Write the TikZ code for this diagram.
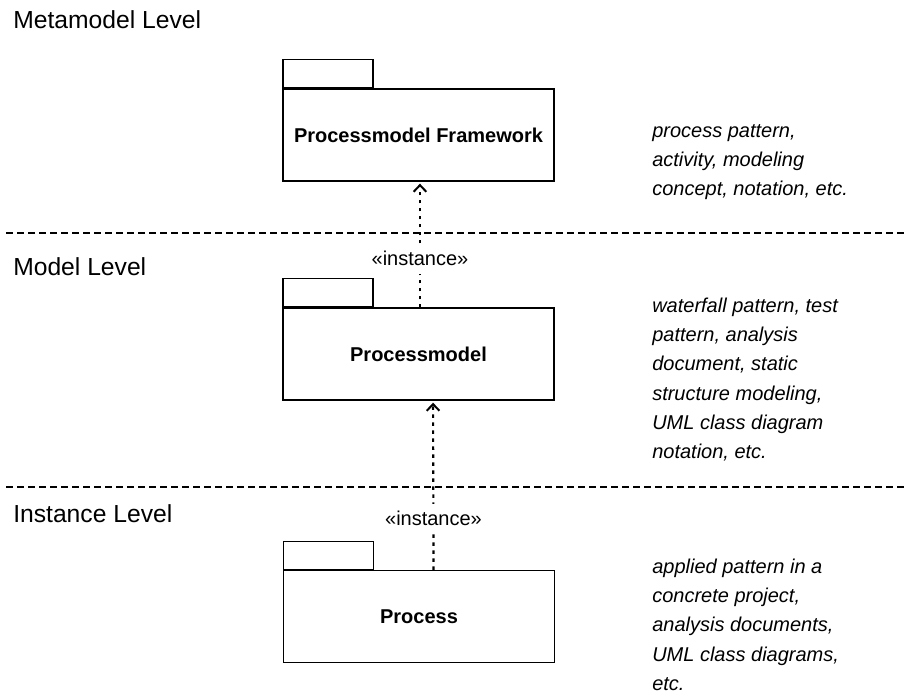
\documentclass[tikz,border=0pt]{standalone}
\usepackage{fontspec}
\setmainfont{Liberation Sans}
\usetikzlibrary{arrows.meta}
\begin{document}
\begin{tikzpicture}[x=0.75pt,y=-0.75pt,
  pkg/.style={draw=black, line width=1pt, minimum width=271*0.75pt, minimum height=92*0.75pt,
    inner sep=0pt, font=\fontsize{15pt}{18pt}\selectfont\bfseries},
  pkgtab/.style={draw=black, line width=1pt, minimum width=90*0.75pt, minimum height=28*0.75pt,
    inner sep=0pt, anchor=south west},
  level/.style={anchor=base west, inner sep=0pt, font=\fontsize{18.5pt}{22pt}\selectfont},
  note/.style={anchor=north west, inner sep=0pt, align=left,
    font=\fontsize{15pt}{22pt}\selectfont\itshape},
  sep/.style={line width=1.4pt, dash pattern=on 5.25pt off 3pt},
  dep/.style={line width=1.6pt, dash pattern=on 2.6pt off 3.4pt,
    -{Straight Barb[length=5pt,width=9.5pt,line width=1.5pt]}, shorten >=1.5pt},
  stereo/.style={anchor=base, fill=white, inner xsep=2pt, inner ysep=7pt,
    text height=9pt, text depth=0pt, font=\fontsize{15pt}{18pt}\selectfont}
]
\useasboundingbox (0,0) rectangle (909,697);

% level separators
\draw[sep] (6,233) -- (907,233);
\draw[sep] (6,487) -- (907,487);

% level titles
\node[level] (lvmeta) at (13,28) {Metamodel Level};
\node[level] (lvmodel) at (13,275) {Model Level};
\node[level] (lvinst) at (13,522) {Instance Level};

% packages
\node[pkg] (fw) at (418.5,135) {Processmodel Framework};
\node[pkgtab] (fwtab) at (fw.north west) {};
\node[pkg] (pm) at (418.5,354) {Processmodel};
\node[pkgtab] (pmtab) at (pm.north west) {};
\node[pkg] (pr) at (419,616.5) {Process};
\node[pkgtab] (prtab) at (pr.north west) {};

% instance-of dependencies
\draw[dep] ([xshift=1.1pt]pm.north) -- ([xshift=1.1pt]fw.south);
\node[stereo] (inst1) at (420,265) {«instance»};
\draw[dep] ([xshift=10.9pt]pr.north) -- ([xshift=10.9pt]pm.south);
\node[stereo] (inst2) at (433.5,525) {«instance»};

% examples per level
\node[note] (ex1) at (652,116.5) {\strut process pattern,\\activity, modeling\\concept, notation, etc.};
\node[note] (ex2) at (652,291.5) {\strut waterfall pattern, test\\pattern, analysis\\document, static\\structure modeling,\\UML class diagram\\notation, etc.};
\node[note] (ex3) at (652,552.5) {\strut applied pattern in a\\concrete project,\\analysis documents,\\UML class diagrams,\\etc.};
\end{tikzpicture}
\end{document}
